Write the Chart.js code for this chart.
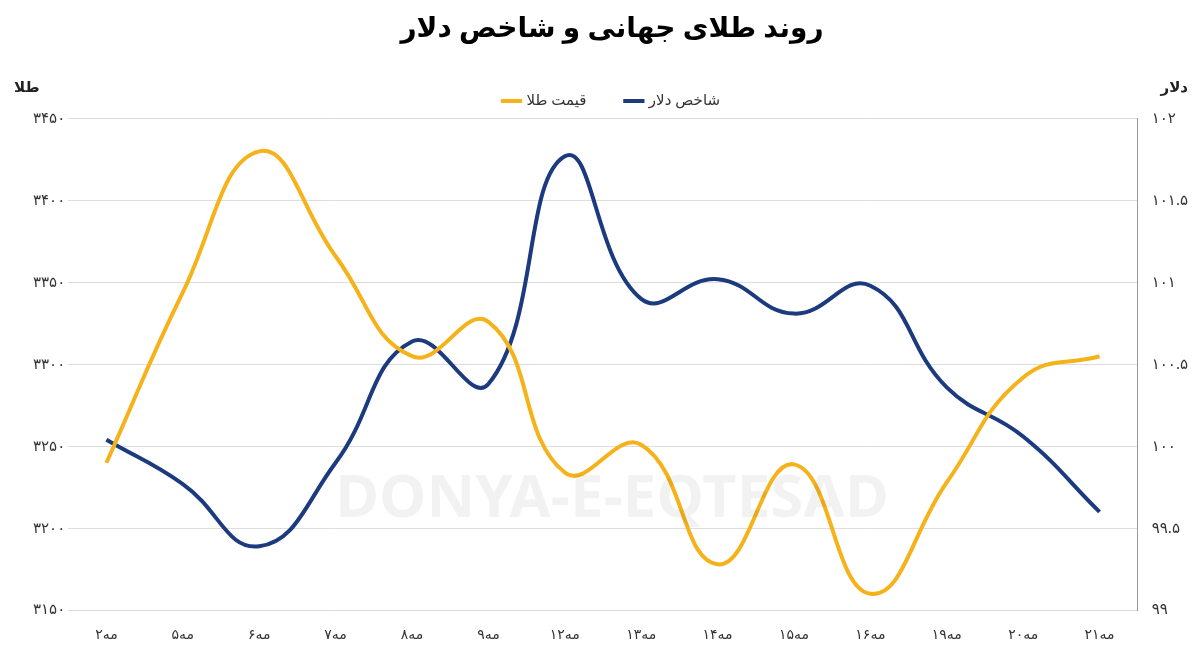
<!DOCTYPE html>
<html><head><meta charset="utf-8">
<script src="https://cdn.jsdelivr.net/npm/chart.js@4"></script>
<style>html,body{margin:0;background:#fff}#w{width:1200px;height:651px}</style>
</head><body><div id="w"><canvas id="c"></canvas></div>
<script>
const categories=["۲مه","۵مه","۶مه","۷مه","۸مه","۹مه","۱۲مه","۱۳مه","۱۴مه","۱۵مه","۱۶مه","۱۹مه","۲۰مه","۲۱مه"];
const gold=[3240,3344,3430,3366,3305,3326,3234,3251,3178,3239,3160,3228,3292,3305];
const dollar=[100.04,99.77,99.39,99.9,100.64,100.38,101.77,100.9,101.02,100.81,100.98,100.36,100.06,99.6];
const fa=s=>String(s).replace(/\d/g,d=>"۰۱۲۳۴۵۶۷۸۹"[d]);
const font="'Noto Sans', 'DejaVu Sans', sans-serif";
const axisTitles={id:'at',afterDraw(ch){const c=ch.ctx;c.save();c.font="bold 15px "+font;c.fillStyle="#222";
c.textAlign='left';c.fillText("طلا",14,88);c.textAlign='right';c.fillText("دلار",1188,88);
c.font="bold 60px "+font;c.fillStyle="rgba(0,0,0,0.05)";c.textAlign='center';c.fillText("DONYA-E-EQTESAD",612,500);c.restore();}};
new Chart(document.getElementById('c'),{type:'line',
data:{labels:categories,datasets:[
{label:"قیمت طلا",data:gold,yAxisID:'y',borderColor:'#F6B21B',backgroundColor:'#F6B21B',borderWidth:4,pointRadius:0,tension:0.45},
{label:"شاخص دلار",data:dollar,yAxisID:'y1',borderColor:'#1C3A7E',backgroundColor:'#1C3A7E',borderWidth:4,pointRadius:0,tension:0.45}]},
options:{responsive:true,maintainAspectRatio:false,animation:false,
layout:{padding:{left:30,right:6,top:12,bottom:0}},
plugins:{title:{display:true,text:"روند طلای جهانی و شاخص دلار",font:{size:28,weight:'bold',family:font},color:'#000',padding:{top:0,bottom:8}},
legend:{labels:{usePointStyle:true,pointStyle:'line',boxWidth:30,font:{size:15,family:font},color:'#333',padding:40}},tooltip:{enabled:false}},
scales:{x:{offset:true,grid:{display:false},border:{display:false},ticks:{font:{size:14,family:font},color:'#333',padding:8}},
y:{min:3150,max:3450,ticks:{stepSize:50,callback:v=>fa(v),font:{size:15,family:font},color:'#333'},grid:{color:'#ddd',drawTicks:false},border:{display:false}},
y1:{position:'right',min:99,max:102,ticks:{stepSize:0.5,callback:v=>fa(v),font:{size:15,family:font},color:'#333',padding:6},grid:{display:false},border:{color:'#999'}}}},
plugins:[axisTitles]});
</script></body></html>
